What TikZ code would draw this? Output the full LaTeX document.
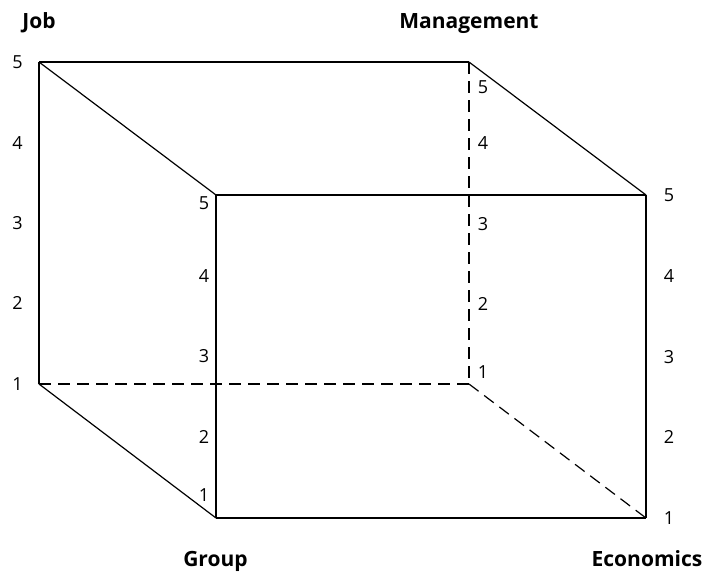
\documentclass[tikz,border=0pt]{standalone}
\usepackage{fontspec}
\setmainfont{Open Sans}
\begin{document}
\begin{tikzpicture}[x=1pt,y=-1pt,
  edge/.style={line width=1.2pt},
  hidden/.style={line width=1.2pt,dash pattern=on 12pt off 7pt},
  num/.style={font=\fontsize{18}{20}\selectfont,inner sep=0pt},
  axis/.style={font=\bfseries\fontsize{21}{24}\selectfont,inner sep=0pt,anchor=base}]
\useasboundingbox (0,0) rectangle (704,571);
% corners
\coordinate (blt) at (39,62);
\coordinate (blb) at (39,384);
\coordinate (brt) at (469,62);
\coordinate (brb) at (469,384);
\coordinate (flt) at (216,195);
\coordinate (flb) at (216,518);
\coordinate (frt) at (646,195);
\coordinate (frb) at (646,518);
% hidden edges
\draw[hidden] (blb) -- (brb);
\draw[hidden] (brt) -- (brb);
\draw[hidden] (brb) -- (frb);
% visible edges
\draw[edge] (blt) -- (brt);
\draw[edge] (blt) -- (blb);
\draw[edge] (blt) -- (flt);
\draw[edge] (brt) -- (frt);
\draw[edge] (flt) -- (frt);
\draw[edge] (frt) -- (frb);
\draw[edge] (flb) -- (frb);
\draw[edge] (flt) -- (flb);
\draw[edge] (blb) -- (flb);
% axis titles
\node[axis] (job) at (39,28) {Job};
\node[axis] (man) at (469,28) {Management};
\node[axis] (grp) at (215.5,566) {Group};
\node[axis] (eco) at (647,566) {Economics};
% back-left scale
\node[num] (bl5) at (17.5,62) {5};
\node[num] (bl4) at (17.5,143) {4};
\node[num] (bl3) at (17.5,223) {3};
\node[num] (bl2) at (17.5,303) {2};
\node[num] (bl1) at (17.5,384) {1};
% front-left scale
\node[num] (fl5) at (204,203) {5};
\node[num] (fl4) at (204,276) {4};
\node[num] (fl3) at (204,356) {3};
\node[num] (fl2) at (204,437) {2};
\node[num] (fl1) at (204,495) {1};
% back-right scale
\node[num] (br5) at (483,87) {5};
\node[num] (br4) at (483,143) {4};
\node[num] (br3) at (483,224) {3};
\node[num] (br2) at (483,304) {2};
\node[num] (br1) at (483,372) {1};
% front-right scale
\node[num] (fr5) at (669,195) {5};
\node[num] (fr4) at (669,276) {4};
\node[num] (fr3) at (669,357) {3};
\node[num] (fr2) at (669,437) {2};
\node[num] (fr1) at (669,518) {1};
\end{tikzpicture}
\end{document}
